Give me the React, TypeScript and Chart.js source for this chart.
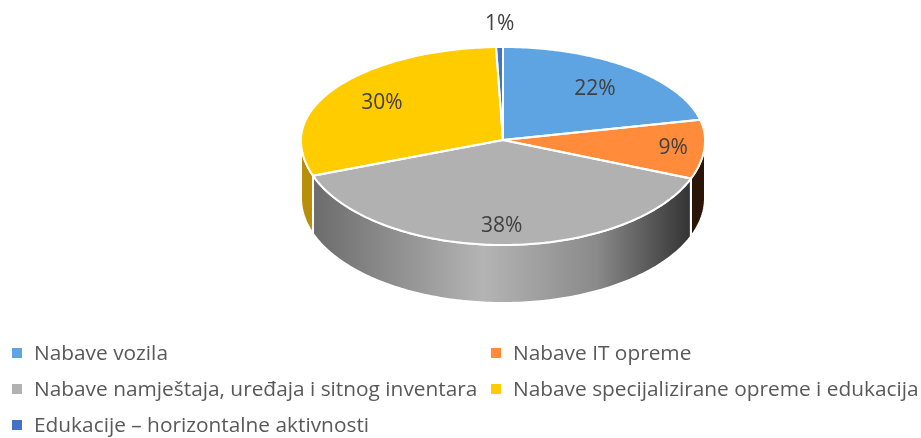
import React, { useEffect, useRef } from "react";
import { Chart, registerables } from "chart.js";

Chart.register(...registerables);

const categories = [
  "Nabave vozila",
  "Nabave IT opreme",
  "Nabave namještaja, uređaja i sitnog inventara",
  "Nabave specijalizirane opreme i edukacija",
  "Edukacije – horizontalne aktivnosti",
];
const shares = [21.5, 9.49, 38.49, 29.97, 0.55];
const sliceColors = ["#5fa4e2", "#ff8b3b", "#b1b1b1", "#ffcc00", "#4472c4"];
const sideColors = ["#3a6a96", "#2a1506", "#808080", "#b78f08", "#2d4c84"];
const labelRadii = [0.72, 0.84, 0.81, 0.73, 1.26];

const CX = 503;
const CY = 140;
const RX = 202;
const RY_TOP = 93;
const RY_BOTTOM = 105;
const DEPTH = 58;

const pt = (a: number, d = 0): [number, number] => {
  const s = Math.sin(a);
  return [CX + RX * Math.cos(a), CY + (s > 0 ? RY_BOTTOM : RY_TOP) * s + d];
};

const tracePie = (ctx: CanvasRenderingContext2D, from: number, to: number, d: number, move: boolean) => {
  const steps = Math.max(2, Math.ceil(Math.abs(to - from) * 60));
  for (let i = 0; i <= steps; i++) {
    const [x, y] = pt(from + ((to - from) * i) / steps, d);
    if (i === 0 && move) ctx.moveTo(x, y);
    else ctx.lineTo(x, y);
  }
};

const piePlugin = {
  id: "tiltedPie",
  beforeDatasetsDraw(chart: any) {
    const ctx: CanvasRenderingContext2D = chart.ctx;
    const arcs = chart.getDatasetMeta(0).data;

    // extruded wall
    arcs.forEach((arc: any, i: number) => {
      const from = Math.max(arc.startAngle, 0);
      const to = Math.min(arc.endAngle, Math.PI);
      if (to <= from) return;
      ctx.save();
      ctx.beginPath();
      tracePie(ctx, from, to, 0, true);
      tracePie(ctx, to, from, DEPTH, false);
      ctx.closePath();
      if (i === 2) {
        const g = ctx.createLinearGradient(pt(to)[0], 0, pt(from)[0], 0);
        g.addColorStop(0, "#6c6c6c");
        g.addColorStop(0.45, "#b4b4b4");
        g.addColorStop(0.75, "#8a8a8a");
        g.addColorStop(1, "#333333");
        ctx.fillStyle = g;
      } else {
        ctx.fillStyle = sideColors[i];
      }
      ctx.fill();
      ctx.strokeStyle = "#ffffff";
      ctx.lineWidth = 2;
      ctx.stroke();
      ctx.restore();
    });

    // top face: upper and lower half foreshortened separately
    [
      { y: 0, h: CY, ry: RY_TOP },
      { y: CY, h: 438 - CY, ry: RY_BOTTOM },
    ].forEach(({ y, h, ry }) => {
      ctx.save();
      ctx.beginPath();
      ctx.rect(0, y, 921, h);
      ctx.clip();
      arcs.forEach((arc: any) => {
        ctx.save();
        ctx.translate(CX, CY);
        ctx.scale(RX / arc.outerRadius, ry / arc.outerRadius);
        ctx.translate(-arc.x, -arc.y);
        arc.draw(ctx);
        ctx.restore();
      });
      ctx.restore();
    });

    // slice outlines in screen space
    arcs.forEach((arc: any) => {
      ctx.beginPath();
      ctx.moveTo(CX, CY);
      tracePie(ctx, arc.startAngle, arc.endAngle, 0, false);
      ctx.closePath();
      ctx.strokeStyle = "#ffffff";
      ctx.lineWidth = 2;
      ctx.lineJoin = "round";
      ctx.stroke();
    });

    // value labels
    ctx.font = '21px "Open Sans"';
    ctx.fillStyle = "#404040";
    ctx.textAlign = "center";
    ctx.textBaseline = "middle";
    arcs.forEach((arc: any, i: number) => {
      const mid = (arc.startAngle + arc.endAngle) / 2;
      const s = Math.sin(mid);
      const x = CX + RX * labelRadii[i] * Math.cos(mid) + 1;
      const y = CY + (s > 0 ? RY_BOTTOM : RY_TOP) * labelRadii[i] * s + 1;
      ctx.fillText(`${Math.round(shares[i])}%`, x, y);
    });
    return false;
  },
};

const legendSlots = [
  { left: 12, top: 353 },
  { left: 491, top: 353 },
  { left: 12, top: 389 },
  { left: 491, top: 389 },
  { left: 12, top: 425 },
];

export default function App() {
  const ref = useRef<HTMLCanvasElement | null>(null);
  useEffect(() => {
    const chart = new Chart(ref.current as HTMLCanvasElement, {
      type: "pie",
      data: {
        labels: categories,
        datasets: [{ data: shares, backgroundColor: sliceColors, borderWidth: 0 }],
      },
      options: {
        responsive: false,
        animation: false,
        plugins: { legend: { display: false }, tooltip: { enabled: false } },
      },
      plugins: [piePlugin],
    } as any);
    return () => chart.destroy();
  }, []);
  return (
    <div style={{ position: "fixed", left: 0, top: 0, width: 921, height: 438, background: "#fff", overflow: "hidden", filter: "blur(0.6px)" }}>
      <canvas ref={ref} width={921} height={438} style={{ display: "block", width: 921, height: 438 }} />
      {categories.map((c, i) => (
        <div key={c}>
          <div style={{ position: "absolute", left: legendSlots[i].left, top: legendSlots[i].top - 5, width: 10, height: 10, background: sliceColors[i] }} />
          <div style={{ position: "absolute", left: legendSlots[i].left + 22, top: legendSlots[i].top - 13, whiteSpace: "nowrap", font: '20.85px/24px "Open Sans"', color: "#595959" }}>{c}</div>
        </div>
      ))}
    </div>
  );
}
